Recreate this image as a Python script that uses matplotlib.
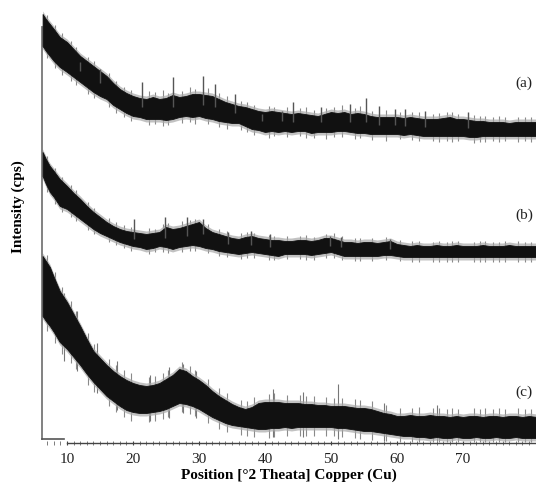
import matplotlib
matplotlib.use("Agg")
import matplotlib.pyplot as plt
from matplotlib.ticker import MultipleLocator

# ---------------- data ----------------
two_theta = [6.3, 6.8, 7.4, 8.0, 8.9, 10, 11, 12, 13, 14, 15, 16, 17, 18, 19, 20,
             21, 22, 23, 24, 25, 26, 27, 28, 29, 30, 31, 32, 33, 34, 35, 36, 37, 38,
             39, 40, 41, 42, 43, 44, 45, 46, 47, 48, 49, 50, 51, 52, 53, 54, 55, 56,
             57, 58, 59, 60, 61, 62, 63, 64, 65, 66, 67, 68, 69, 70, 71, 72, 73, 74,
             75, 76, 77, 78, 79, 80, 81.2]

# sample (a): upper / lower edge of the dense noisy trace
a_upper = [429, 424, 419, 414, 406, 401, 394, 387, 382, 377, 372, 367, 360, 354, 350, 347,
           345, 344, 346, 344, 345, 348, 346, 347, 349, 349, 348, 347, 344, 341, 339, 337,
           336, 334, 332, 331, 332, 331, 330, 329, 330, 329, 328, 327, 329, 331, 330, 331,
           329, 330, 329, 327, 326, 326, 326, 326, 325, 326, 325, 324, 324, 324, 325, 326,
           324, 324, 323, 322, 322, 321, 321, 321, 320, 321, 321, 321, 321]
a_lower = [397, 392, 387, 382, 376, 371, 366, 361, 356, 351, 347, 344, 338, 334, 330, 327,
           326, 324, 324, 324, 323, 324, 326, 327, 326, 327, 325, 324, 322, 321, 320, 320,
           317, 314, 313, 311, 312, 311, 312, 311, 312, 312, 310, 311, 311, 311, 312, 312,
           311, 310, 310, 309, 309, 309, 309, 309, 308, 309, 308, 307, 307, 307, 307, 307,
           307, 307, 306, 306, 307, 307, 307, 307, 307, 307, 307, 307, 307]

# sample (b)
b_upper = [291, 284, 277, 272, 264, 257, 250, 244, 237, 231, 226, 221, 217, 214, 212, 211,
           210, 209, 210, 211, 216, 214, 215, 217, 219, 221, 215, 211, 209, 207, 205, 204,
           206, 207, 205, 204, 203, 203, 202, 202, 203, 203, 202, 203, 205, 205, 203, 201,
           201, 200, 201, 201, 200, 201, 202, 199, 198, 197, 198, 197, 197, 198, 197, 197,
           198, 197, 197, 197, 198, 197, 197, 197, 198, 197, 197, 197, 197]
b_lower = [267, 259, 251, 246, 237, 234, 229, 224, 219, 214, 210, 207, 204, 201, 199, 197,
           196, 194, 195, 197, 196, 194, 196, 197, 198, 197, 195, 194, 192, 191, 190, 189,
           190, 191, 190, 189, 188, 187, 189, 189, 189, 189, 188, 189, 190, 191, 189, 187,
           187, 187, 187, 187, 187, 188, 188, 187, 186, 186, 186, 186, 186, 186, 186, 186,
           186, 186, 186, 186, 186, 186, 186, 186, 186, 186, 186, 186, 186]

# sample (c)
c_upper = [187, 182, 176, 166, 152, 141, 129, 117, 104, 92, 85, 78, 72, 67, 63, 60,
           58, 57, 58, 60, 64, 68, 74, 72, 67, 63, 58, 52, 47, 43, 39, 36,
           34, 36, 40, 41, 41, 41, 40, 40, 40, 39, 39, 38, 38, 37, 37, 37,
           36, 35, 35, 34, 32, 30, 29, 27, 27, 28, 27, 27, 28, 27, 27, 26,
           27, 26, 27, 27, 26, 27, 27, 26, 27, 27, 26, 27, 26]
c_lower = [127, 122, 117, 111, 101, 94, 86, 78, 69, 61, 54, 47, 42, 37, 33, 31,
           30, 30, 31, 32, 34, 37, 40, 39, 37, 34, 30, 26, 23, 20, 18, 17,
           16, 15, 14, 14, 15, 15, 16, 15, 16, 16, 16, 16, 16, 16, 15, 15,
           14, 13, 12, 12, 11, 10, 9, 8, 7, 7, 6, 6, 5, 6, 5, 5,
           6, 5, 5, 6, 5, 5, 6, 5, 5, 6, 5, 5, 5]

# fringe of counting noise around each trace: position, highest and lowest excursion
noise_pos = [7.0, 8.2, 9.3, 10.6, 11.4, 13.2, 14.1, 16.3, 17.4, 18.6, 19.7, 22.4, 23.3,
             24.6, 25.3, 27.4, 28.6, 29.4, 31.3, 33.1, 34.2, 36.4, 37.3, 38.4, 40.6, 41.4,
             43.4, 45.3, 46.2, 47.4, 49.3, 50.4, 51.6, 53.6, 54.4, 56.2, 58.3, 60.4, 62.3,
             63.3, 65.4, 66.3, 67.5, 68.4, 69.3, 71.6, 72.5, 73.4, 74.6, 75.5, 76.4, 78.3,
             79.4, 80.3]
a_noise_hi = [428, 418, 410, 402, 396, 386, 382, 370, 362, 356, 353, 352, 351, 353, 350,
              352, 356, 354, 355, 350, 347, 342, 341, 338, 337, 336, 336, 335, 336, 333,
              335, 336, 338, 335, 337, 332, 333, 331, 331, 331, 329, 330, 331, 331, 329,
              328, 327, 327, 326, 327, 326, 326, 326, 326]
a_noise_lo = [385, 375, 368, 362, 358, 349, 345, 336, 330, 326, 322, 318, 319, 317, 318,
              320, 321, 319, 319, 316, 314, 313, 311, 308, 305, 307, 306, 307, 305, 305,
              304, 306, 306, 304, 305, 303, 302, 304, 303, 302, 302, 301, 302, 301, 302,
              300, 301, 301, 302, 301, 302, 301, 302, 301]
b_noise_hi = [287, 275, 266, 258, 253, 241, 235, 225, 221, 218, 216, 215, 214, 219, 220,
              222, 223, 224, 219, 214, 212, 210, 211, 210, 208, 207, 207, 207, 208, 206,
              209, 210, 207, 205, 205, 205, 206, 203, 202, 202, 201, 202, 201, 202, 202,
              201, 202, 202, 201, 201, 202, 202, 201, 201]
b_noise_lo = [251, 239, 231, 226, 222, 213, 209, 201, 198, 195, 192, 189, 191, 191, 190,
              191, 192, 192, 190, 187, 186, 184, 185, 185, 183, 183, 184, 184, 183, 183,
              185, 185, 183, 182, 182, 182, 183, 182, 181, 181, 181, 181, 181, 181, 181,
              181, 181, 181, 181, 181, 181, 181, 181, 181]
c_noise_hi = [188, 171, 156, 142, 132, 110, 99, 84, 78, 73, 70, 66, 67, 70, 73, 81, 77,
              73, 64, 55, 50, 43, 42, 46, 49, 50, 48, 48, 47, 47, 46, 45, 45, 44, 43, 42,
              38, 35, 35, 36, 35, 35, 34, 35, 34, 35, 34, 35, 34, 35, 34, 35, 34, 34]
c_noise_lo = [112, 100, 89, 80, 74, 58, 51, 37, 31, 26, 22, 21, 22, 24, 26, 31, 29, 27,
              20, 14, 11, 8, 7, 6, 5, 6, 7, 7, 7, 7, 7, 7, 6, 5, 4, 3, 2, 1, 1, 1, 1, 1,
              1, 1, 1, 1, 1, 1, 1, 1, 1, 1, 1, 1]

# sharp reflections: position, base, tip
a_spk_pos = [12.0, 15.0, 21.4, 26.1, 30.6, 32.4, 35.5, 39.5, 42.6, 44.3, 48.5, 52.9, 55.3, 57.2, 59.7, 61.2, 64.2, 70.7]
a_spk_tip = [381, 374, 361, 366, 367, 359, 349, 329, 332, 341, 336, 339, 345, 337, 334, 334, 332, 331]
a_spk_base = [372, 360, 336, 336, 338, 336, 330, 322, 322, 321, 321, 321, 321, 318, 318, 317, 316, 315]

b_spk_pos = [20.1, 24.8, 28.2, 30.6, 34.4, 37.9, 40.8, 49.8, 51.5, 59.0]
b_spk_tip = [224, 226, 226, 224, 211, 212, 209, 207, 206, 204]
b_spk_base = [204, 205, 207, 209, 199, 198, 196, 197, 196, 194]

c_spk_pos = [9.5, 11.5, 14.5, 17.5, 22.5, 25.5, 27.5, 29.5, 41.2, 45.8, 51.0, 58.0, 66.0]
c_spk_tip = [150, 132, 100, 82, 68, 76, 79, 72, 54, 51, 59, 40, 38]
c_spk_low = [82, 72, 50, 33, 22, 25, 30, 25, 6, 6, 4, 2, 2]

x_ticks = [10, 20, 30, 40, 50, 60, 70]
sample_labels = ["(a)", "(b)", "(c)"]
label_y = [361, 229, 52]

# ---------------- figure ----------------
plt.rcParams["font.family"] = ["Liberation Serif", "DejaVu Serif"]
fig = plt.figure(figsize=(5.36, 4.89), dpi=100)
ax = fig.add_axes([42 / 536, 45 / 489, 494 / 536, 444 / 489])
ax.set_xlim(6.21, 81.06)
ax.set_ylim(0, 444)

dark = "#111111"
halo = "#a8a8a8"
for up, lo in [(a_upper, a_lower), (b_upper, b_lower), (c_upper, c_lower)]:
    ax.fill_between(two_theta, [u + 3 for u in up], [l - 3 for l in lo],
                    color=halo, lw=0, alpha=0.7, zorder=2)
    ax.fill_between(two_theta, up, lo, color=dark, lw=0.6, edgecolor=dark, zorder=3)

for hi, lo in [(a_noise_hi, a_noise_lo), (b_noise_hi, b_noise_lo), (c_noise_hi, c_noise_lo)]:
    ax.vlines(noise_pos, lo, hi, color="#8a8a8a", lw=0.8, zorder=1)

ax.vlines(a_spk_pos, a_spk_base, a_spk_tip, color="#555555", lw=1.0, zorder=4)
ax.vlines(b_spk_pos, b_spk_base, b_spk_tip, color="#555555", lw=1.0, zorder=4)
ax.vlines(c_spk_pos, c_spk_low, c_spk_tip, color="#777777", lw=0.8, zorder=1)

for lab, yy in zip(sample_labels, label_y):
    ax.text(77.9, yy, lab, fontsize=11, va="center", ha="left", color="#222222")

# spines
for s in ["top", "right"]:
    ax.spines[s].set_visible(False)
ax.spines["left"].set_color("#777777")
ax.spines["left"].set_linewidth(1.3)
ax.spines["left"].set_bounds(4, 416)
ax.spines["bottom"].set_color("#444444")
ax.spines["bottom"].set_linewidth(1.0)
ax.spines["bottom"].set_bounds(10, 81.06)
ax.plot([6.21, 9.6], [4, 4], color="#555555", lw=1.2, clip_on=False, zorder=5)

ax.set_yticks([])
ax.set_xticks(x_ticks)
ax.set_xticklabels([str(t) for t in x_ticks], fontsize=11, color="#222222")
ax.xaxis.set_minor_locator(MultipleLocator(1))
ax.tick_params(axis="x", which="major", direction="inout", length=3, width=0.8,
               color="#444444", pad=5)
ax.tick_params(axis="x", which="minor", direction="inout", length=2.5, width=0.6,
               color="#666666")

ax.set_xlabel("Position [°2 Theata] Copper (Cu)", fontsize=11, fontweight="bold",
              labelpad=2)
fig.text(18 / 536, 1 - 207 / 489, "Intensity (cps)", rotation=90, fontsize=11,
         fontweight="bold", ha="center", va="center")

fig.savefig("out.png", dpi=100)
